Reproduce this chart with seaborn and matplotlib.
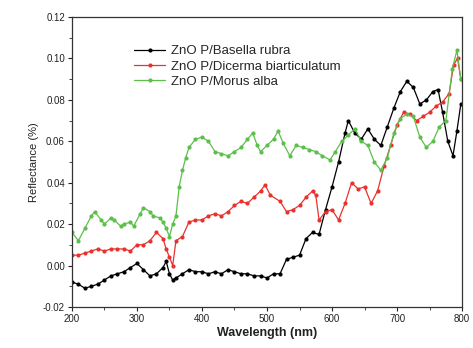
import matplotlib
matplotlib.use("Agg")
import matplotlib.pyplot as plt
import seaborn as sns
import pandas as pd
from matplotlib.ticker import MultipleLocator

# ---- data ----
wl_black = [200, 210, 220, 230, 240, 250, 260, 270, 280, 290, 300, 310, 320, 330, 340, 345,
            350, 355, 360, 370, 380, 390, 400, 410, 420, 430, 440, 450, 460, 470, 480, 490,
            500, 510, 520, 530, 540, 550, 560, 570, 580, 590, 600, 610, 620, 625, 635, 645,
            655, 665, 675, 685, 695, 705, 715, 725, 735, 745, 755, 763, 770, 778, 786, 792, 798]
r_black = [-0.008, -0.009, -0.011, -0.010, -0.009, -0.007, -0.005, -0.004, -0.003, -0.001,
           0.001, -0.002, -0.005, -0.004, -0.001, 0.002, -0.004, -0.007, -0.006, -0.004,
           -0.002, -0.003, -0.003, -0.004, -0.003, -0.004, -0.002, -0.003, -0.004, -0.004,
           -0.005, -0.005, -0.006, -0.004, -0.004, 0.003, 0.004, 0.005, 0.013, 0.016, 0.015,
           0.027, 0.038, 0.050, 0.064, 0.070, 0.064, 0.061, 0.066, 0.061, 0.058, 0.067, 0.076,
           0.084, 0.089, 0.086, 0.078, 0.080, 0.084, 0.085, 0.074, 0.060, 0.053, 0.065, 0.078]

wl_red = [200, 210, 220, 230, 240, 250, 260, 270, 280, 290, 300, 310, 320, 330, 340, 345, 350,
          355, 360, 370, 380, 390, 400, 410, 420, 430, 440, 450, 460, 470, 480, 490, 497, 505,
          520, 530, 540, 550, 560, 570, 575, 580, 590, 600, 610, 620, 630, 640, 650, 660, 670,
          680, 690, 700, 710, 720, 730, 740, 750, 760, 770, 780, 787, 793, 798]
r_red = [0.005, 0.005, 0.006, 0.007, 0.008, 0.007, 0.008, 0.008, 0.008, 0.007, 0.010, 0.010,
         0.012, 0.016, 0.013, 0.008, 0.004, 0.000, 0.012, 0.014, 0.021, 0.022, 0.022, 0.024,
         0.025, 0.024, 0.026, 0.029, 0.031, 0.030, 0.033, 0.036, 0.039, 0.034, 0.031, 0.026,
         0.027, 0.029, 0.033, 0.036, 0.034, 0.022, 0.026, 0.027, 0.022, 0.030, 0.040, 0.037,
         0.038, 0.030, 0.036, 0.048, 0.058, 0.068, 0.074, 0.073, 0.070, 0.072, 0.074, 0.077,
         0.079, 0.083, 0.097, 0.100, 0.090]

wl_green = [200, 210, 220, 230, 235, 245, 250, 260, 265, 275, 280, 290, 295, 305, 310, 320,
            325, 335, 340, 345, 350, 355, 360, 365, 370, 375, 380, 390, 400, 410, 420, 430,
            440, 450, 460, 470, 478, 485, 490, 500, 510, 517, 525, 535, 545, 555, 565, 575,
            585, 597, 605, 615, 625, 635, 645, 655, 665, 675, 685, 695, 705, 715, 725, 735,
            745, 755, 765, 775, 785, 792, 798]
r_green = [0.016, 0.012, 0.018, 0.024, 0.026, 0.022, 0.020, 0.023, 0.022, 0.019, 0.020, 0.021,
           0.019, 0.025, 0.028, 0.026, 0.024, 0.023, 0.021, 0.018, 0.014, 0.020, 0.024, 0.038,
           0.046, 0.052, 0.057, 0.061, 0.062, 0.060, 0.055, 0.054, 0.053, 0.055, 0.057, 0.061,
           0.064, 0.058, 0.055, 0.058, 0.061, 0.065, 0.059, 0.053, 0.058, 0.057, 0.056, 0.055,
           0.053, 0.051, 0.055, 0.060, 0.063, 0.066, 0.060, 0.058, 0.050, 0.046, 0.052, 0.064,
           0.071, 0.073, 0.072, 0.062, 0.057, 0.060, 0.067, 0.070, 0.095, 0.104, 0.090]

series_names = ["ZnO P/Basella rubra", "ZnO P/Dicerma biarticulatum", "ZnO P/Morus alba"]
series_colors = ["#000000", "#e8322e", "#5cbf4a"]
x_ticks = [200, 300, 400, 500, 600, 700, 800]
y_ticks = [-0.02, 0.00, 0.02, 0.04, 0.06, 0.08, 0.10, 0.12]

frames = []
for name, wl, rv in zip(series_names, [wl_black, wl_red, wl_green], [r_black, r_red, r_green]):
    frames.append(pd.DataFrame({"Wavelength": wl, "Reflectance": rv, "Sample": name}))
df = pd.concat(frames, ignore_index=True)

sns.set_theme(style="white")
plt.rcParams["font.family"] = ["Liberation Sans", "DejaVu Sans"]

fig = plt.figure(figsize=(4.73, 3.48), dpi=100)
ax = fig.add_axes([0.152, 0.118, 0.825, 0.833])

for name, col in zip(series_names, series_colors):
    sub = df[df["Sample"] == name]
    sns.lineplot(data=sub, x="Wavelength", y="Reflectance", ax=ax, color=col, label=name,
                 marker="o", markersize=3, markeredgewidth=0, linewidth=0.9, sort=True)

ax.set_xlim(200, 800)
ax.set_ylim(-0.02, 0.12)
ax.set_xticks(x_ticks)
ax.set_yticks(y_ticks)
ax.set_yticklabels([f"{v:.2f}" for v in y_ticks])
ax.xaxis.set_minor_locator(MultipleLocator(50))
ax.yaxis.set_minor_locator(MultipleLocator(0.01))
ax.tick_params(axis="both", which="major", direction="out", length=3, width=0.8,
               labelsize=7, pad=2, colors="#222222", bottom=True, left=True)
ax.tick_params(axis="both", which="minor", direction="out", length=2, width=0.6,
               bottom=True, left=True)
for s in ax.spines.values():
    s.set_color("#333333")
    s.set_linewidth(0.9)

ax.set_xlabel("Wavelength (nm)", fontsize=9, fontweight="bold", labelpad=2, color="#222222")
ax.set_ylabel("Reflectance (%)", fontsize=8, labelpad=3, color="#222222")

leg = ax.legend(loc="upper left", bbox_to_anchor=(0.135, 0.935), frameon=False, fontsize=9.5,
                handlelength=2.4, handletextpad=0.4, labelspacing=0.22, borderpad=0.2)

fig.savefig("out.png", dpi=100)
